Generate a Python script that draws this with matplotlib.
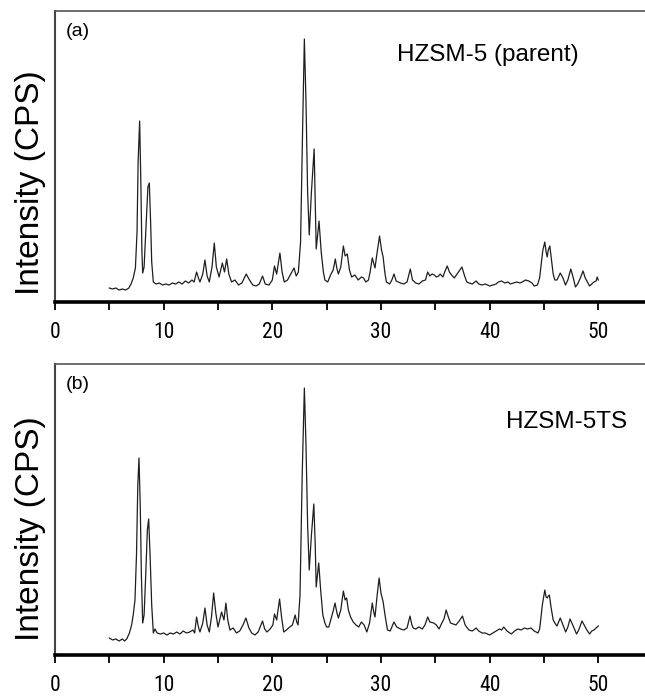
import matplotlib
matplotlib.use("Agg")
import matplotlib.pyplot as plt
from matplotlib.ticker import MultipleLocator

# XRD patterns (2-theta in degrees, intensity in arbitrary counts)

two_theta_a = [5.0, 5.3, 5.6, 5.9, 6.2, 6.5, 6.8, 7.0, 7.2, 7.4, 7.55, 7.65, 7.79, 7.9, 8.0, 8.07,
               8.2, 8.4, 8.55, 8.68, 8.8, 8.9, 9.05, 9.3, 9.6, 9.9, 10.2, 10.5, 10.8, 11.1, 11.4,
               11.7, 12.0, 12.3, 12.6, 12.8, 13.03, 13.2, 13.34, 13.6, 13.8, 14.0, 14.2, 14.45,
               14.66, 14.85, 15.1, 15.4, 15.6, 15.8, 16.0, 16.25, 16.56, 16.9, 17.2, 17.6, 17.9,
               18.2, 18.5, 18.8, 19.1, 19.35, 19.7, 20.0, 20.2, 20.4, 20.7, 20.9, 21.1, 21.4, 21.7,
               22.0, 22.2, 22.4, 22.6, 22.8, 22.95, 23.1, 23.25, 23.4, 23.6, 23.85, 23.95, 24.04,
               24.15, 24.3, 24.5, 24.7, 24.84, 25.1, 25.4, 25.6, 25.8, 25.95, 26.08, 26.3, 26.54,
               26.7, 26.9, 27.1, 27.3, 27.6, 27.9, 28.2, 28.4, 28.6, 28.85, 29.0, 29.2, 29.35,
               29.45, 29.65, 29.87, 30.05, 30.2, 30.35, 30.5, 30.8, 31.0, 31.2, 31.4, 31.8, 32.1,
               32.4, 32.7, 32.9, 33.2, 33.5, 33.8, 34.1, 34.3, 34.5, 34.7, 34.9, 35.1, 35.3, 35.45,
               35.7, 35.9, 36.1, 36.3, 36.5, 36.75, 37.0, 37.2, 37.45, 37.7, 37.9, 38.1, 38.4,
               38.76, 39.0, 39.3, 39.6, 40.0, 40.3, 40.6, 40.8, 41.1, 41.4, 41.7, 41.9, 42.2, 42.5,
               42.8, 43.0, 43.3, 43.6, 43.9, 44.1, 44.4, 44.6, 44.75, 44.9, 45.08, 45.2, 45.3,
               45.4, 45.54, 45.7, 45.85, 46.0, 46.2, 46.5, 46.75, 46.98, 47.2, 47.47, 47.7, 47.9,
               48.1, 48.35, 48.6, 48.8, 49.0, 49.2, 49.4, 49.6, 49.8, 49.9, 50.0]
intensity_a = [14, 13, 14, 12, 13, 12, 14, 18, 24, 34, 70, 140, 181, 120, 50, 29,
               35, 80, 115, 119, 80, 40, 20, 18, 19, 17, 18, 17, 19, 18, 20,
               18, 21, 19, 22, 20, 30, 24, 20, 28, 42, 26, 20, 35,
               59, 35, 25, 39, 30, 43, 28, 20, 22, 17, 19, 28, 22,
               17, 16, 18, 26, 18, 17, 22, 36, 28, 49, 30, 20, 22, 28,
               34, 26, 30, 60, 180, 263, 200, 110, 67, 110, 153, 100, 53,
               65, 81, 50, 30, 22, 20, 28, 32, 43, 33, 28, 35, 56,
               46, 48, 32, 25, 27, 22, 25, 24, 20, 22, 30, 44, 38,
               34, 50, 66, 52, 45, 30, 20, 18, 22, 28, 21, 19, 18,
               20, 33, 22, 19, 18, 21, 22, 30, 26, 28, 27, 25, 26, 28,
               25, 31, 36, 30, 27, 24, 28, 31, 35, 26, 20, 19, 18,
               21, 18, 17, 18, 16, 17, 18, 20, 21, 19, 20, 18, 19, 20,
               19, 20, 22, 21, 19, 16, 17, 24, 38, 52, 60, 50, 45,
               52, 56, 42, 28, 22, 22, 29, 24, 17, 22, 33, 24, 15,
               18, 24, 31, 24, 20, 16, 18, 20, 21, 25, 22]

two_theta_b = [5.0, 5.3, 5.6, 5.9, 6.2, 6.4, 6.6, 6.85, 7.05, 7.2, 7.36, 7.5, 7.62, 7.73, 7.85,
               7.95, 8.07, 8.2, 8.35, 8.5, 8.62, 8.75, 8.9, 9.05, 9.2, 9.4, 9.7, 10.0, 10.3, 10.6,
               10.9, 11.2, 11.5, 11.8, 12.1, 12.4, 12.7, 12.85, 13.03, 13.2, 13.34, 13.6, 13.8,
               14.0, 14.2, 14.4, 14.6, 14.8, 15.0, 15.33, 15.55, 15.73, 15.9, 16.1, 16.4, 16.7,
               17.0, 17.3, 17.57, 17.85, 18.1, 18.4, 18.7, 19.1, 19.3, 19.5, 19.8, 20.05, 20.2,
               20.4, 20.67, 20.85, 21.05, 21.3, 21.6, 21.85, 22.1, 22.25, 22.37, 22.55, 22.75,
               22.95, 23.1, 23.25, 23.4, 23.6, 23.82, 23.95, 24.04, 24.15, 24.27, 24.45, 24.65,
               24.84, 25.0, 25.2, 25.45, 25.6, 25.77, 25.95, 26.08, 26.3, 26.54, 26.7, 26.84,
               27.0, 27.2, 27.45, 27.7, 27.95, 28.2, 28.45, 28.7, 28.95, 29.2, 29.35, 29.45,
               29.65, 29.83, 30.0, 30.2, 30.4, 30.6, 30.85, 31.0, 31.2, 31.45, 31.8, 32.1, 32.4,
               32.67, 32.85, 32.97, 33.2, 33.5, 33.8, 34.05, 34.3, 34.5, 34.86, 35.1, 35.35, 35.6,
               35.8, 36.0, 36.2, 36.4, 36.65, 36.9, 37.2, 37.5, 37.75, 37.95, 38.1, 38.4, 38.76,
               39.0, 39.3, 39.6, 40.0, 40.3, 40.6, 40.9, 41.1, 41.3, 41.6, 42.0, 42.3, 42.6, 42.9,
               43.2, 43.5, 43.8, 44.1, 44.45, 44.6, 44.7, 44.85, 45.08, 45.2, 45.3, 45.4, 45.5,
               45.65, 45.85, 46.0, 46.2, 46.5, 46.75, 47.0, 47.2, 47.4, 47.65, 48.0, 48.2, 48.5,
               48.7, 48.95, 49.2, 49.4, 49.6, 49.8, 50.0]
intensity_b = [17, 15, 16, 14, 16, 14, 16, 22, 30, 40, 55, 100, 170, 197, 147,
               80, 32, 40, 80, 125, 136, 100, 50, 22, 26, 22, 21, 22, 20, 22,
               21, 23, 21, 24, 22, 23, 25, 22, 38, 28, 23, 32, 47,
               30, 23, 38, 62, 42, 28, 43, 35, 52, 35, 25, 27, 22,
               24, 30, 37, 27, 22, 20, 23, 34, 26, 23, 26, 30, 41,
               35, 56, 38, 23, 25, 28, 30, 40, 33, 30, 60, 180,
               267, 210, 130, 85, 120, 151, 110, 68, 80, 92, 65, 40,
               32, 28, 28, 38, 44, 52, 42, 37, 45, 64, 55, 57,
               45, 38, 33, 30, 28, 33, 30, 23, 32, 52, 42, 38,
               60, 77, 62, 53, 38, 25, 24, 28, 33, 28, 26, 25, 27,
               39, 30, 27, 26, 28, 26, 30, 38, 33, 32, 30, 26, 32,
               36, 45, 38, 32, 31, 30, 34, 39, 30, 27, 25, 24, 27,
               24, 22, 22, 20, 22, 24, 26, 25, 28, 24, 21, 24, 26, 25,
               27, 26, 27, 24, 22, 26, 35, 50, 65, 58, 57, 59, 60,
               48, 35, 32, 29, 37, 30, 23, 28, 36, 30, 21, 25, 34,
               30, 25, 21, 24, 25, 27, 29]

panel_tags = ["(a)", "(b)"]
sample_names = ["HZSM-5 (parent)", "HZSM-5TS"]
x_ticks = [0, 10, 20, 30, 40, 50]

W, H = 645, 697


# 한 패널 그리기
def draw_panel(fig, rect, x, y, tag, name, name_x, name_y):
    ax = fig.add_axes(rect)
    ax.plot(x, y, color="#1e1e1e", lw=0.9)
    ax.set_xlim(0, 54.3)
    ax.set_ylim(0, 291)
    ax.set_xticks(x_ticks)
    ax.xaxis.set_minor_locator(MultipleLocator(5))
    ax.set_yticks([])
    ax.tick_params(axis="x", which="both", direction="out", length=5.5, width=1.3,
                   color="black", pad=9)
    for lab in ax.get_xticklabels():
        lab.set_family(["Roboto Condensed", "Liberation Sans"])
        lab.set_fontsize(15.5)
    ax.spines["right"].set_visible(False)
    ax.spines["top"].set_color("#555555")
    ax.spines["top"].set_linewidth(1.2)
    ax.spines["left"].set_color("#444444")
    ax.spines["left"].set_linewidth(1.5)
    ax.spines["bottom"].set_color("black")
    ax.spines["bottom"].set_linewidth(2.6)

    ax.text(0.019, 0.93, tag, transform=ax.transAxes, fontsize=14,
            family="Liberation Sans", ha="left", va="center")
    fig.text(name_x / W, 1 - name_y / H, name, fontsize=17.5,
             family="Liberation Sans", ha="left", va="center")
    return ax


def main():
    fig = plt.figure(figsize=(W / 100, H / 100), dpi=100)
    left = 55 / W
    width = 1 - left
    height = 291 / H

    draw_panel(fig, [left, 1 - 302 / H, width, height], two_theta_a, intensity_a,
               panel_tags[0], sample_names[0], 397, 55)
    draw_panel(fig, [left, 1 - 655 / H, width, height], two_theta_b, intensity_b,
               panel_tags[1], sample_names[1], 506, 422)

    # y축 라벨 (회전)
    for yc in [183, 529]:
        fig.text(31 / W, 1 - yc / H, "Intensity (CPS)", rotation=90, fontsize=24,
                 family="Liberation Sans", ha="center", va="center")

    fig.savefig("out.png", dpi=100)


if __name__ == "__main__":
    main()
